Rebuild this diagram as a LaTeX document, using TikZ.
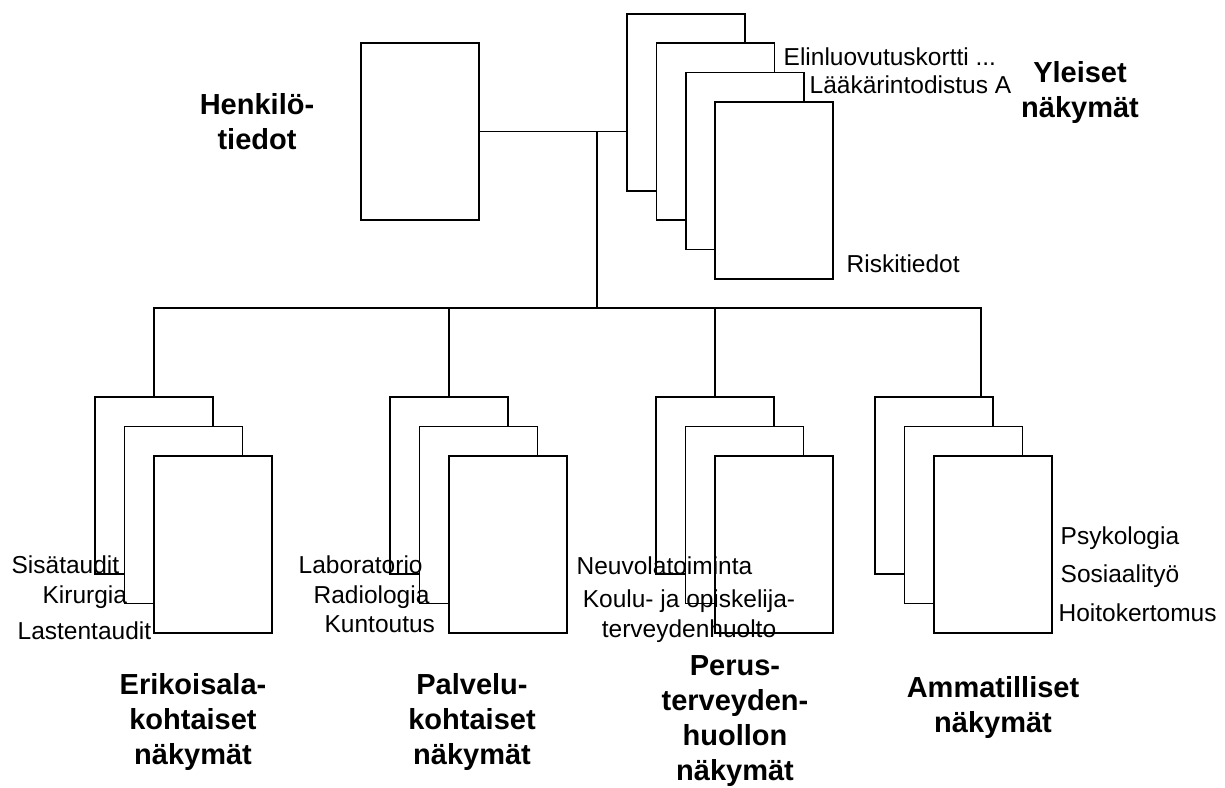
\documentclass[tikz,border=0pt]{standalone}
\usepackage{fontspec}
\setmainfont{Liberation Sans}
\usepackage{xcolor}

\begin{document}
\begin{tikzpicture}[x=1pt,y=-1pt,line width=1.3pt,
		sheet/.style={draw, fill=white, minimum width=118pt, minimum height=177pt, inner sep=0pt},
		lbl/.style={anchor=base west, inner sep=0pt, font=\fontsize{24.5}{30}\selectfont},
		ttl/.style={align=center, inner sep=0pt, font=\fontsize{29}{35}\selectfont\bfseries}]

				\useasboundingbox (0,0) rectangle (1225,787);

				% henkilotiedot
				\node [sheet] (hk) at (420,131.5){};
				\node [ttl] (hkt) at (257,122){Henkilö-\\tiedot};

				% yleiset nakymat
				\node [sheet] (y1) at (686,102.5){};
				\node [sheet] (y2) at (715.5,131.5){};
				\node [sheet] (y3) at (745,161){};
				\node [sheet] (y4) at (774,190.5){};
				\node [lbl] (y1l) at (783,65){Elinluovutuskortti ...};
				\node [lbl] (y2l) at (809,93){Lääkärintodistus A};
				\node [lbl] (y4l) at (846,272){Riskitiedot};
				\node [ttl] (yt) at (1080,93){Yleiset\\näkymät};

				% erikoisalakohtaiset
				\node [sheet] (e1) at (154,485.5){};
				\node [sheet] (e2) at (183.5,515){};
				\node [sheet] (e3) at (213,544.5){};
				\node [lbl] (e1l) at (11,573){Sisätaudit};
				\node [lbl] (e2l) at (42,603){Kirurgia};
				\node [lbl] (e3l) at (17,639){Lastentaudit};
				\node [ttl] (et) at (193,722){Erikoisala-\\kohtaiset\\näkymät};

				% palvelukohtaiset
				\node [sheet] (p1) at (449,485.5){};
				\node [sheet] (p2) at (478.5,515){};
				\node [sheet] (p3) at (508,544.5){};
				\node [lbl] (p1l) at (298,573){Laboratorio};
				\node [lbl] (p2l) at (313,603){Radiologia};
				\node [lbl] (p3l) at (324,632){Kuntoutus};
				\node [ttl] (pt) at (472,722){Palvelu-\\kohtaiset\\näkymät};

				% perusterveydenhuolto
				\node [sheet] (t1) at (715,485.5){};
				\node [sheet] (t2) at (744.5,515){};
				\node [sheet] (t3) at (774,544.5){};
				\node [lbl] (t1l) at (576,574){Neuvolatoiminta};
				\node [align=center, inner sep=0pt, font=\fontsize{24.5}{30}\selectfont] (t2l) at (689,616.5){Koulu- ja opiskelija-\\terveydenhuolto};
				\node [ttl] (tt) at (735,721){Perus-\\terveyden-\\huollon\\näkymät};

				% ammatilliset
				\node [sheet] (a1) at (934,485.5){};
				\node [sheet] (a2) at (963.5,515){};
				\node [sheet] (a3) at (993,544.5){};
				\node [lbl] (a1l) at (1060,544){Psykologia};
				\node [lbl] (a2l) at (1060,582){Sosiaalityö};
				\node [lbl] (a3l) at (1058,621){Hoitokertomus};
				\node [ttl] (at) at (993,707){Ammatilliset\\näkymät};

				\coordinate (j) at (597,131.5);
				\coordinate (b) at (597,308);
				\coordinate (b4) at (981,308);

				\draw (hk.east) -- (hk.east -| y1.west);
				\draw (j) -- (b);
				\draw (e1.north) -- (e1.north |- b) -- (b4) -- (b4 |- a1.north);
				\draw (p1.north |- b) -- (p1.north);
				\draw (t1.north |- b) -- (t1.north);

			\end{tikzpicture}
\end{document}
